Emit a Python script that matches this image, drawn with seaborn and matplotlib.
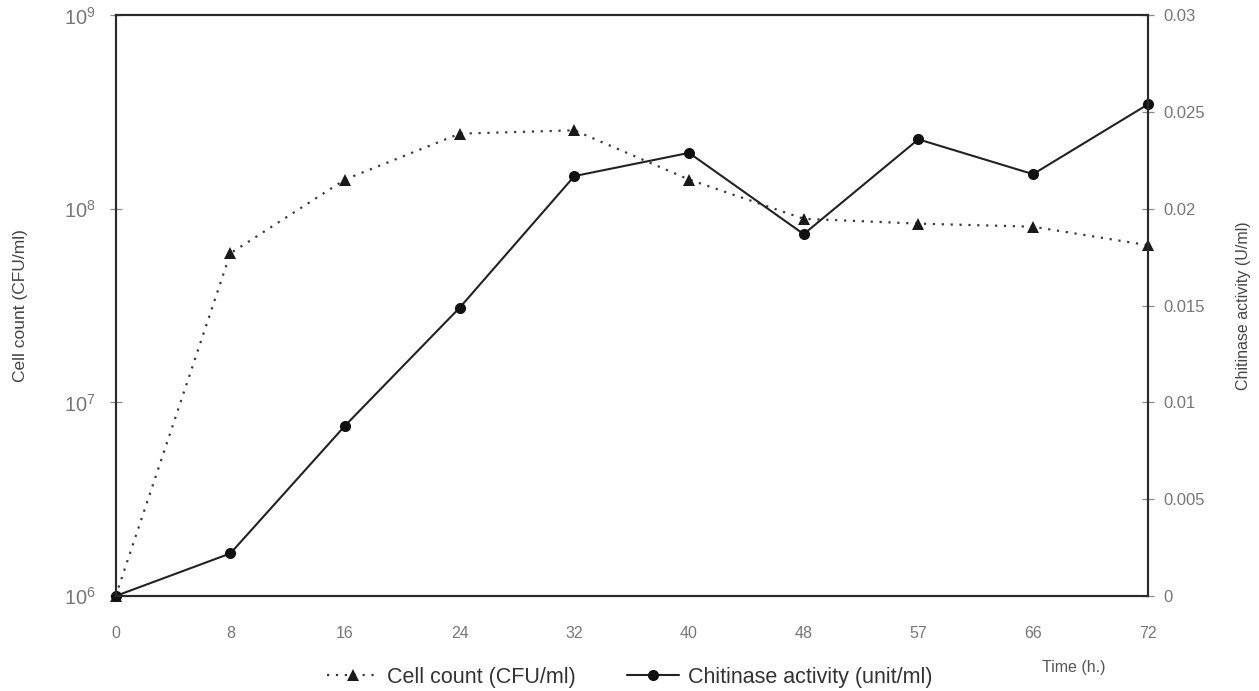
import numpy as np
import pandas as pd
import matplotlib
matplotlib.use("Agg")
import matplotlib.pyplot as plt
from matplotlib.ticker import FixedLocator, NullLocator, FuncFormatter
import seaborn as sns

# Sampling times (h) shown as evenly spaced categories
time_labels = ["0", "8", "16", "24", "32", "40", "48", "57", "66", "72"]
# Viable cell count (CFU/ml)
cell_count = [1.0e6, 5.9e7, 1.42e8, 2.45e8, 2.55e8, 1.42e8, 8.9e7, 8.4e7, 8.1e7, 6.5e7]
# Chitinase activity (U/ml)
chitinase = [0.0, 0.0022, 0.0088, 0.0149, 0.0217, 0.0229, 0.0187, 0.0236, 0.0218, 0.0254]

df = pd.DataFrame({
    "pos": np.arange(len(time_labels)),
    "cells": cell_count,
    "chitinase": chitinase,
})

sns.set_style("white")
plt.rcParams["font.family"] = ["Liberation Sans", "DejaVu Sans"]
plt.rcParams["mathtext.fontset"] = "custom"
plt.rcParams["mathtext.rm"] = "Liberation Sans"
plt.rcParams["mathtext.it"] = "Liberation Sans:italic"

fig = plt.figure(figsize=(12.59, 6.91), dpi=100)
ax = fig.add_axes([0.0919, 0.1375, 0.8197, 0.8401])
ax2 = ax.twinx()

spine_color = "#2a2a2a"
tick_color = "#8a8a8a"
label_color = "#777777"

# Cell count on a log axis (dotted line with triangles)
ax.set_yscale("log")
sns.lineplot(data=df, x="pos", y="cells", ax=ax, color="#3a3a3a",
             linestyle=(0, (1, 3)), linewidth=1.6, marker="^",
             markersize=8, markeredgewidth=0, markerfacecolor="#1a1a1a")

# Chitinase activity on a linear axis (solid line with circles)
sns.lineplot(data=df, x="pos", y="chitinase", ax=ax2, color="#222222",
             linewidth=1.5, marker="o", markersize=8, markeredgewidth=0,
             markerfacecolor="#111111")

for line in ax.lines + ax2.lines:
    line.set_clip_on(False)

ax.set_xlim(0, len(time_labels) - 1)
ax.set_ylim(1e6, 1e9)
ax2.set_ylim(0, 0.03)

ax.xaxis.set_major_locator(FixedLocator(df["pos"].tolist()))
ax.set_xticklabels(time_labels)
ax.yaxis.set_major_locator(FixedLocator([1e6, 1e7, 1e8, 1e9]))
ax.yaxis.set_minor_locator(NullLocator())
ax.yaxis.set_major_formatter(FuncFormatter(lambda v, p: r"$10^{%d}$" % round(np.log10(v))))

ax2.yaxis.set_major_locator(FixedLocator([0, 0.005, 0.01, 0.015, 0.02, 0.025, 0.03]))
ax2.yaxis.set_major_formatter(FuncFormatter(lambda v, p: "%g" % v))

for a in (ax, ax2):
    for s in a.spines.values():
        s.set_visible(True)
        s.set_color(spine_color)
        s.set_linewidth(1.5)

ax.tick_params(axis="x", direction="inout", length=9, width=0.9, color=tick_color,
               labelcolor=label_color, labelsize=11.5, pad=17)
ax.tick_params(axis="y", direction="inout", length=9, width=0.9, color=tick_color,
               labelcolor=label_color, labelsize=14.5, pad=10)
ax2.tick_params(axis="y", direction="inout", length=9, width=0.9, color=tick_color,
                labelcolor=label_color, labelsize=12, pad=7)

ax.set_ylabel("Cell count (CFU/ml)", fontsize=12.5, color="#444444", labelpad=26)
ax2.set_ylabel("Chitinase activity (U/ml)", fontsize=11.5, color="#444444", labelpad=22)
ax.set_xlabel("Time (h.)", fontsize=11.5, color="#555555")
ax.xaxis.set_label_coords(0.928, -0.11)

handles = [ax.lines[0], ax2.lines[0]]
labels = ["Cell count (CFU/ml)", "Chitinase activity (unit/ml)"]
fig.legend(handles, labels, loc="center", bbox_to_anchor=(0.5, 0.02), ncol=2,
           frameon=False, fontsize=15.5, handlelength=2.4, columnspacing=2.4,
           handletextpad=0.4, labelcolor="#333333", borderaxespad=0)

fig.savefig("out.png", dpi=100)
